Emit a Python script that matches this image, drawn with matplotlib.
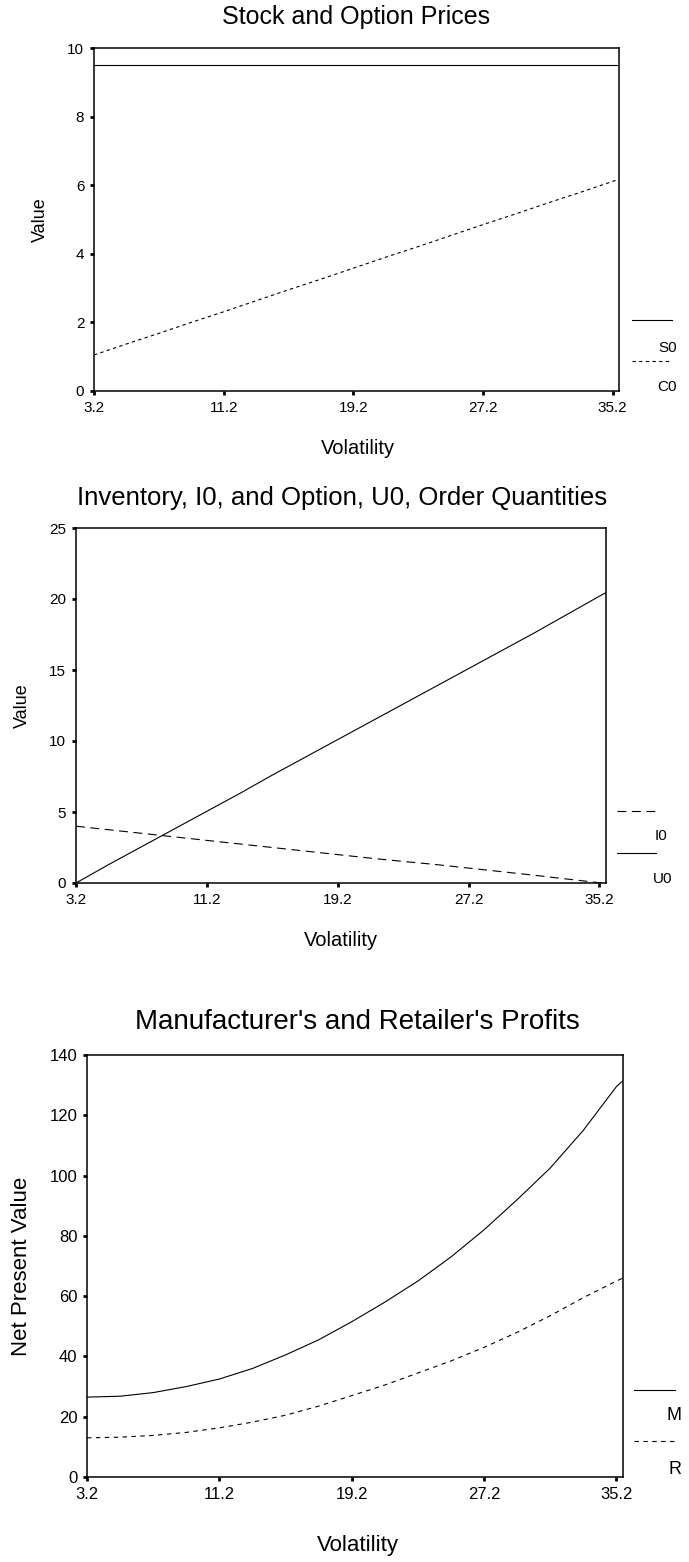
import matplotlib.pyplot as plt
from matplotlib.lines import Line2D

plt.rcParams['font.family'] = ['Liberation Sans', 'DejaVu Sans']

# volatility grid (last point is where the curves hit the right frame)
vol = [3.2, 5.2, 7.2, 9.2, 11.2, 13.2, 15.2, 17.2, 19.2, 21.2, 23.2, 25.2,
       27.2, 29.2, 31.2, 33.2, 35.2, 35.6]
xticks = [3.2, 11.2, 19.2, 27.2, 35.2]

# panel 1: stock and option prices
S0 = [9.5] * 18
C0 = [1.05, 1.37, 1.68, 2.0, 2.31, 2.63, 2.95, 3.26, 3.58, 3.9, 4.21, 4.53,
      4.85, 5.16, 5.48, 5.79, 6.11, 6.17]

# panel 2: order quantities
I0 = [4.0, 3.75, 3.5, 3.25, 3.0, 2.75, 2.5, 2.25, 2.0, 1.75, 1.52, 1.3,
      1.05, 0.8, 0.55, 0.28, 0.02, 0.0]
U0 = [0.0, 1.3, 2.55, 3.8, 5.05, 6.3, 7.6, 8.85, 10.1, 11.35, 12.6, 13.85,
      15.1, 16.35, 17.6, 18.9, 20.2, 20.45]

# panel 3: profits
M = [26.5, 26.8, 28.0, 30.0, 32.5, 36.0, 40.5, 45.5, 51.5, 58.0, 65.0, 73.0,
     82.0, 92.0, 102.5, 115.0, 129.5, 131.5]
R = [13.0, 13.2, 13.8, 14.8, 16.3, 18.2, 20.5, 23.5, 27.0, 30.5, 34.5, 38.5,
     43.0, 48.0, 53.5, 59.5, 65.0, 66.0]

W, H = 689, 1562
fig = plt.figure(figsize=(W / 100, H / 100), dpi=100)


def axes_px(l, t, r, b):
    return fig.add_axes([l / W, 1 - b / H, (r - l) / W, (b - t) / H])


def fx(x):
    return x / W


def fy(y):
    return 1 - y / H


def style(ax, ylim, yticks, tsize):
    ax.set_xlim(3.2, 35.6)
    ax.set_ylim(*ylim)
    ax.set_xticks(xticks)
    ax.set_xticklabels([str(t) for t in xticks])
    ax.set_yticks(yticks)
    for s in ax.spines.values():
        s.set_linewidth(1.1)
    ax.tick_params(direction='out', length=3, width=2, labelsize=tsize, pad=4)


def leg_line(x0, x1, y, ls):
    fig.add_artist(Line2D([fx(x0), fx(x1)], [fy(y), fy(y)], color='black',
                          lw=0.8, linestyle=ls))


def leg_text(x, y, s, size):
    fig.text(fx(x), fy(y), s, ha='right', va='center', fontsize=size)


# ---- panel 1
ax1 = axes_px(94, 48, 619, 391)
ax1.plot(vol, S0, color='black', lw=0.8)
ax1.plot(vol, C0, color='black', lw=0.8, linestyle=(0, (3, 3)))
style(ax1, (0, 10), [0, 2, 4, 6, 8, 10], 11)
ax1.set_ylabel('Value', fontsize=13)
ax1.yaxis.set_label_coords((40 - 94) / (619 - 94), 0.5)
fig.text(fx(356), fy(17), 'Stock and Option Prices', ha='center', va='center', fontsize=18)
fig.text(fx(358), fy(448), 'Volatility', ha='center', va='center', fontsize=14.5)
leg_line(632, 672, 320, '-')
leg_text(677, 348, 'S0', 11)
leg_line(632, 672, 361, (0, (3, 3)))
leg_text(677, 387, 'C0', 11)

# ---- panel 2
ax2 = axes_px(76, 528, 606, 883)
ax2.plot(vol, I0, color='black', lw=0.8, linestyle=(0, (8, 5)))
ax2.plot(vol, U0, color='black', lw=0.8)
style(ax2, (0, 25), [0, 5, 10, 15, 20, 25], 11)
ax2.set_ylabel('Value', fontsize=13)
ax2.yaxis.set_label_coords((22 - 76) / (606 - 76), 0.5)
fig.text(fx(342), fy(498), 'Inventory, I0, and Option, U0, Order Quantities',
         ha='center', va='center', fontsize=18.5)
fig.text(fx(341), fy(940), 'Volatility', ha='center', va='center', fontsize=14.5)
leg_line(617, 656, 811, (0, (8, 5)))
leg_text(667, 836, 'I0', 11)
leg_line(617, 656, 853, '-')
leg_text(672, 879, 'U0', 11)

# ---- panel 3
ax3 = axes_px(87, 1055, 623, 1477)
ax3.plot(vol, M, color='black', lw=0.8)
ax3.plot(vol, R, color='black', lw=0.8, linestyle=(0, (4, 4)))
style(ax3, (0, 140), [0, 20, 40, 60, 80, 100, 120, 140], 12)
ax3.set_ylabel('Net Present Value', fontsize=16)
ax3.yaxis.set_label_coords((22 - 87) / (623 - 87), 0.5)
fig.text(fx(357), fy(1022), "Manufacturer's and Retailer's Profits",
         ha='center', va='center', fontsize=20)
fig.text(fx(358), fy(1545), 'Volatility', ha='center', va='center', fontsize=16)
leg_line(634, 675, 1390, '-')
leg_text(682, 1416, 'M', 13)
leg_line(634, 675, 1441, (0, (4, 4)))
leg_text(682, 1470, 'R', 13)

for ax in (ax1, ax2, ax3):
    ax.yaxis.label.set_va('center')

fig.savefig('out.png', dpi=100)
